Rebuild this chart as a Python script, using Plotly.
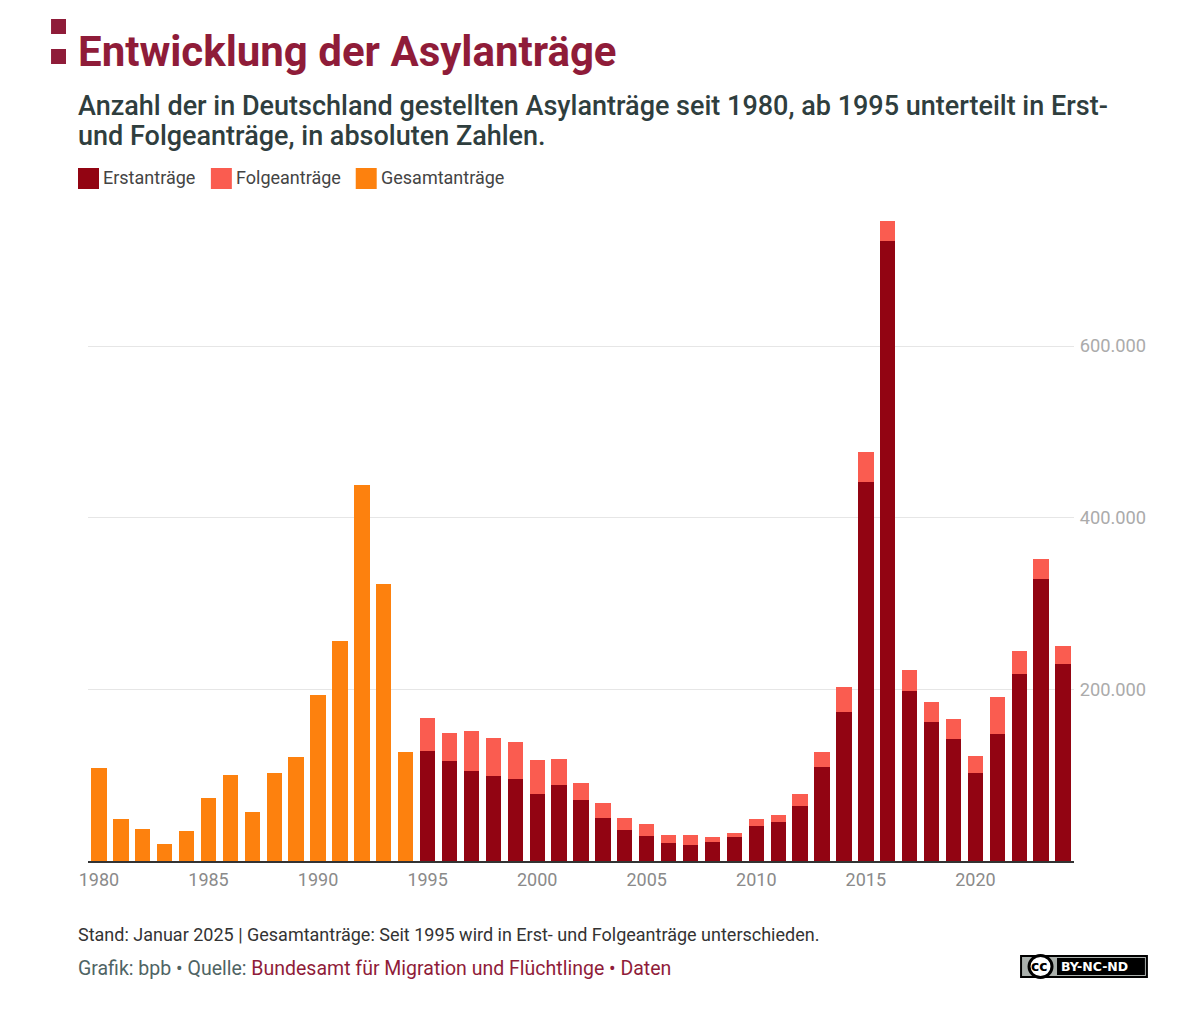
import plotly.graph_objects as go

years_total = list(range(1980, 1995))
gesamt = [107800, 49400, 37400, 19700, 35300, 73800, 99700, 57400, 103100, 121300, 193100, 256100, 438200, 322600, 127200]
years_split = list(range(1995, 2025))
erst = [127900, 116400, 104400, 98600, 95100, 78600, 88300, 71100, 50600, 35600, 28900, 21000, 19200, 22100, 27600,
        41300, 45700, 64500, 109600, 173100, 441900, 722400, 198300, 161900, 142500, 102600, 148200, 217800, 329100, 229800]
folge = [39000, 32800, 47300, 44800, 43200, 39100, 30000, 20300, 17300, 14500, 14000, 9100, 11100, 5900, 5400,
         7300, 7600, 13100, 17400, 29800, 34800, 23200, 24400, 23900, 23400, 19600, 42600, 26400, 22800, 21200]
x_ticks = [1980, 1985, 1990, 1995, 2000, 2005, 2010, 2015, 2020]
y_ticks = [200000, 400000, 600000]

W, H = 1185, 1013
L, R, T, B = 87.5, 110.5, 216, 152
PLOT_LEFT = 88
FONT = "Roboto"
WINE = "#8f1c39"
DARK = "#2f3e3e"
C_ERST, C_FOLGE, C_GES = "#920412", "#fa5c50", "#fd810e"
BAR_W = 0.7


def px(x):
    return (x - PLOT_LEFT) / (W - L - R)


def py(y):
    return (H - B - y) / (H - T - B)


fig = go.Figure()
fig.add_bar(x=years_total, y=gesamt, name="Gesamtanträge", marker_color=C_GES, width=BAR_W, marker_line_width=0)
fig.add_bar(x=years_split, y=erst, name="Erstanträge", marker_color=C_ERST, width=BAR_W, marker_line_width=0)
fig.add_bar(x=years_split, y=folge, name="Folgeanträge", marker_color=C_FOLGE, width=BAR_W, marker_line_width=0)

shapes = []


def rect(x0, y0, x1, y1, color):
    shapes.append(dict(type="rect", xref="paper", yref="paper", x0=px(x0), x1=px(x1), y0=py(y0), y1=py(y1),
                       fillcolor=color, line_width=0, layer="above"))


def text(x, y, s, size, color, weight=400, anchor="left", family=FONT):
    fig.add_annotation(x=px(x), y=py(y), xref="paper", yref="paper", text=s, showarrow=False,
                       xanchor=anchor, yanchor="middle", align="left", borderpad=0, xshift=-1,
                       font=dict(family=family, size=size, color=color, weight=weight))


# header mark
rect(51, 19, 66, 34, WINE)
rect(51, 49, 66, 64, WINE)
text(78, 51, "Entwicklung der Asylanträge", 42, WINE, 700)
text(78, 106, "Anzahl der in Deutschland gestellten Asylanträge seit 1980, ab 1995 unterteilt in Erst-", 27, DARK, 500)
text(78, 136, "und Folgeanträge, in absoluten Zahlen.", 27, DARK, 500)

# legend
for x0, color, label in [(78, C_ERST, "Erstanträge"), (211, C_FOLGE, "Folgeanträge"), (356, C_GES, "Gesamtanträge")]:
    rect(x0, 168, x0 + 21, 189, color)
    text(x0 + 25.5, 177.5, label, 18, "#444444")

# footer
text(78, 934.5, "Stand: Januar 2025 | Gesamtanträge: Seit 1995 wird in Erst- und Folgeanträge unterschieden.", 18, "#333333")
text(78, 968, "Grafik: bpb • Quelle: <span style='color:%s'>Bundesamt für Migration und Flüchtlinge • Daten</span>" % WINE,
     19.5, "#4f6464")

# licence badge
rect(1021, 955, 1149, 978, "#000000")
rect(1023, 957, 1147, 976, "#aab0ac")
rect(1058, 958, 1146, 975, "#000000")
shapes.append(dict(type="circle", xref="paper", yref="paper", x0=px(1030), x1=px(1053), y0=py(955.5), y1=py(977.5),
                   fillcolor="#ffffff", line=dict(color="#000000", width=3), layer="above"))
text(1041.5, 966, "cc", 14, "#000000", 800, "center", "DejaVu Sans")
text(1062, 966.5, "BY-NC-ND", 12.5, "#ffffff", 700, "left", "DejaVu Sans")

fig.update_layout(
    width=W, height=H, autosize=False,
    margin=dict(l=L, r=R, t=T, b=B, pad=0),
    paper_bgcolor="white", plot_bgcolor="white",
    barmode="stack", showlegend=False, separators=",.",
    font=dict(family=FONT),
    shapes=shapes,
    xaxis=dict(range=[1979.5, 2024.5], tickvals=x_ticks, ticks="outside", ticklen=1, tickcolor="rgba(0,0,0,0)",
               showgrid=False, zeroline=False,
               showline=True, linecolor="#333333", linewidth=2,
               tickfont=dict(family=FONT, size=18, color="#8a8a8a")),
    yaxis=dict(range=[0, 751456], side="right", tickvals=y_ticks, tickformat=",d", ticks="outside",
               ticklen=1, tickcolor="rgba(0,0,0,0)", showline=False, zeroline=False,
               gridcolor="#e6e6e6", gridwidth=1,
               tickfont=dict(family=FONT, size=18.3, color="#ababab")),
)
fig.write_html("out.html", post_script="document.body.style.margin='0';", config={"displayModeBar": False})
